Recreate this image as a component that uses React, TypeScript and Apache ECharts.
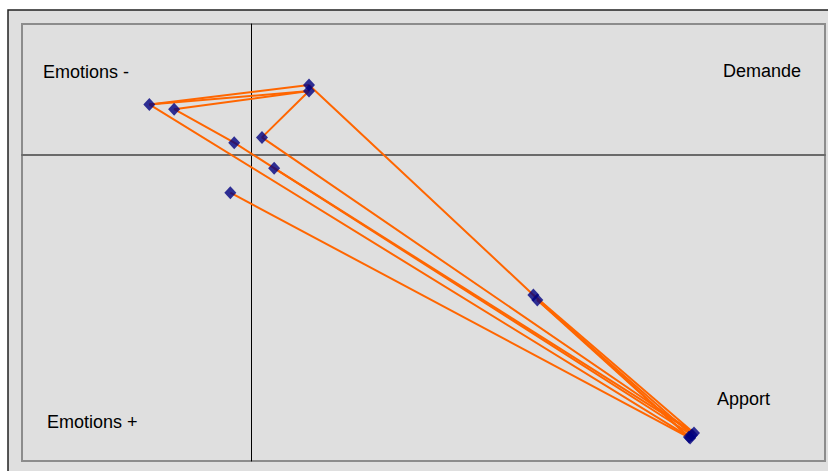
import React, { useEffect, useRef } from "react";
import * as echarts from "echarts";

// Point coordinates (data units)
const pointX = [-0.445, -0.337, 0.251, 0.251, -0.075, 0.046, 0.099, -0.092, 1.229, 1.246, 1.907, 1.92, 1.929, 1.912];
const pointY = [0.232, 0.21, 0.321, 0.293, 0.057, 0.081, -0.06, -0.172, -0.64, -0.663, -1.29, -1.281, -1.272, -1.295];

// Trajectories as sequences of point indices
const paths = [
  [2, 0, 10],
  [3, 0],
  [3, 1, 4, 6, 11],
  [6, 12],
  [3, 5, 12],
  [7, 13],
  [2, 8, 10],
  [9, 11],
  [8, 12],
  [9, 13],
];

const quadrantLabels = ["Emotions -", "Demande", "Apport", "Emotions +"];

export default function App() {
  const ref = useRef<HTMLDivElement>(null);
  useEffect(() => {
    if (!ref.current) return;
    const chart = echarts.init(ref.current, null, { renderer: "svg" });
    const pts = pointX.map((x, i) => [x, pointY[i]]);
    const lineSeries = paths.map((p) => ({
      type: "line",
      data: p.map((i) => pts[i]),
      showSymbol: false,
      lineStyle: { color: "#FF6600", width: 2 },
      z: 2,
      silent: true,
    }));
    const font = { fontFamily: "'Liberation Sans', Arial, sans-serif", fontSize: 18, fill: "#000" };
    chart.setOption({
      animation: false,
      backgroundColor: "#ffffff",
      graphic: [
        {
          type: "rect",
          z: -10,
          shape: { x: 8, y: 10, width: 840, height: 480 },
          style: { fill: "#dfdfdf", stroke: "#222222", lineWidth: 1.5 },
        },
        { type: "text", x: 43, y: 71.5, z: 10, style: { ...font, text: quadrantLabels[0], verticalAlign: "middle" } },
        { type: "text", x: 723, y: 70.5, z: 10, style: { ...font, text: quadrantLabels[1], verticalAlign: "middle" } },
        { type: "text", x: 717, y: 398.5, z: 10, style: { ...font, text: quadrantLabels[2], verticalAlign: "middle" } },
        { type: "text", x: 47, y: 422, z: 10, style: { ...font, text: quadrantLabels[3], verticalAlign: "middle" } },
      ],
      grid: {
        left: 22,
        top: 24,
        width: 803,
        height: 437,
        show: true,
        backgroundColor: "#dfdfdf",
        borderColor: "#8c8c8c",
        borderWidth: 2,
      },
      xAxis: {
        type: "value",
        min: -1,
        max: 2.5,
        axisLine: { show: true, onZero: true, lineStyle: { color: "#6a6a6a", width: 2 } },
        axisTick: { show: false },
        axisLabel: { show: false },
        splitLine: { show: false },
      },
      yAxis: {
        type: "value",
        min: -1.4,
        max: 0.6,
        axisLine: { show: true, onZero: true, lineStyle: { color: "#000000", width: 1 } },
        axisTick: { show: false },
        axisLabel: { show: false },
        splitLine: { show: false },
      },
      series: [
        ...lineSeries,
        {
          type: "scatter",
          data: pts,
          symbol: "diamond",
          symbolSize: [12, 13],
          itemStyle: { color: "#000080" },
          z: 5,
          silent: true,
        },
      ],
    });
    return () => chart.dispose();
  }, []);
  return <div ref={ref} style={{ position: "fixed", left: 0, top: 0, width: 828, height: 471 }} />;
}
